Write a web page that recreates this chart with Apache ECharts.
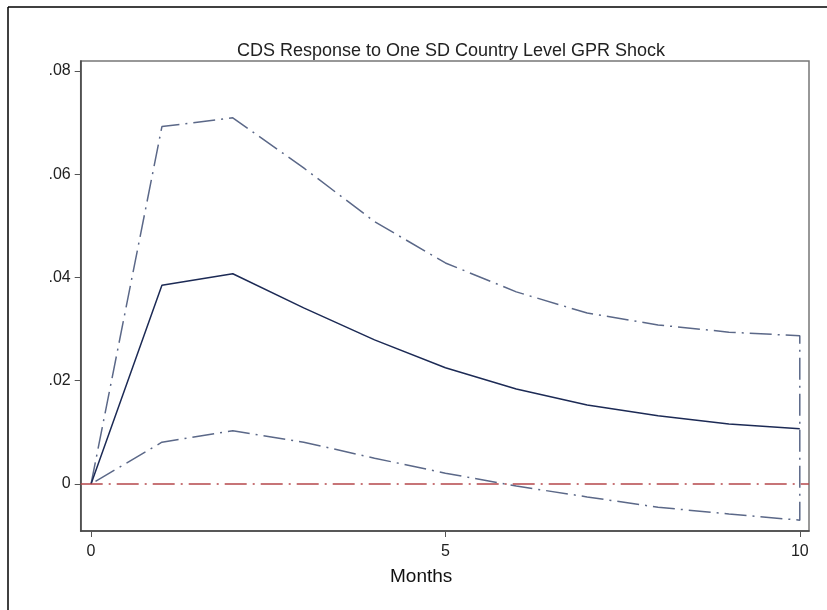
<!DOCTYPE html>
<html>
<head>
<meta charset="utf-8">
<script src="https://cdn.jsdelivr.net/npm/echarts@6/dist/echarts.min.js"></script>
<style>
  html, body { margin: 0; padding: 0; background: #fff; }
  #chart { width: 827px; height: 610px; }
</style>
</head>
<body>
<div id="chart"></div>
<script>
// months after the shock
const months = [0, 1, 2, 3, 4, 5, 6, 7, 8, 9, 10]
// impulse response and its confidence bounds
const response = [0, 0.0385, 0.0407, 0.0341, 0.0279, 0.0225, 0.0184, 0.0153, 0.0132, 0.0116, 0.0107]
const upper = [0, 0.0692, 0.0709, 0.0612, 0.0508, 0.0428, 0.0372, 0.0331, 0.0308, 0.0294, 0.0287]
const lower = [0, 0.0081, 0.0103, 0.0081, 0.0050, 0.0021, -0.0004, -0.0025, -0.0045, -0.0058, -0.0070]
const yTicks = [0, 0.02, 0.04, 0.06, 0.08]
const xTicks = [0, 5, 10]

const font = 'Liberation Sans, Arial, sans-serif'
const ciDash = [22, 6, 2, 6]

// band outline: upper bound forward, then lower bound back
const band = months.map((m, i) => [m, upper[i]])
  .concat(months.slice().reverse().map((m) => [m, lower[m]]))

const chart = echarts.init(document.getElementById('chart'))
chart.setOption({
  animation: false,
  title: {
    text: 'CDS Response to One SD Country Level GPR Shock',
    left: 446, top: 37, textAlign: 'center',
    textStyle: { fontFamily: font, fontSize: 18, fontWeight: 'normal', color: '#222' },
  },
  grid: {
    left: 80.7, top: 61, right: 18, bottom: 79,
    show: true, borderColor: '#777', borderWidth: 1.5,
  },
  xAxis: {
    type: 'value', min: -0.146, max: 10.13,
    splitLine: { show: false },
    axisLine: { show: true, onZero: false, lineStyle: { color: '#444', width: 1.5 } },
    axisTick: { show: true, length: 6, customValues: xTicks, lineStyle: { color: '#555' } },
    axisLabel: {
      customValues: xTicks, margin: 13,
      fontFamily: font, fontSize: 16, color: '#222',
    },
  },
  yAxis: {
    type: 'value', min: -0.0091, max: 0.0819,
    splitLine: { show: false },
    axisLine: { show: true, onZero: false, lineStyle: { color: '#444', width: 1.5 } },
    axisTick: { show: true, length: 6, customValues: yTicks, lineStyle: { color: '#555' } },
    axisLabel: {
      customValues: yTicks, margin: 10,
      fontFamily: font, fontSize: 16, color: '#222',
      formatter: (v) => (Math.abs(v) < 1e-9 ? '0' : v.toFixed(2).replace(/^0/, '')),
    },
  },
  graphic: [
    { type: 'line', shape: { x1: 8, y1: 7, x2: 8, y2: 610 }, style: { stroke: '#000', lineWidth: 1.5 } },
    { type: 'line', shape: { x1: 8, y1: 7, x2: 827, y2: 7 }, style: { stroke: '#000', lineWidth: 1.5 } },
    {
      type: 'text', left: 390, top: 567,
      style: { text: 'Months', font: '19px ' + font, fill: '#111' },
    },
  ],
  series: [
    {
      type: 'line', data: band,
      symbol: 'none', silent: true,
      lineStyle: { color: '#5b6888', width: 1.5, type: ciDash },
      // zero reference line across the whole plot
      markLine: {
        silent: true, symbol: 'none', label: { show: false },
        lineStyle: { color: '#b5474b', width: 1.5, type: ciDash },
        data: [{ yAxis: 0 }],
      },
    },
    {
      type: 'line', data: months.map((m, i) => [m, response[i]]),
      symbol: 'none', silent: true,
      lineStyle: { color: '#1c2a55', width: 1.5 },
    },
  ],
})
</script>
</body>
</html>
